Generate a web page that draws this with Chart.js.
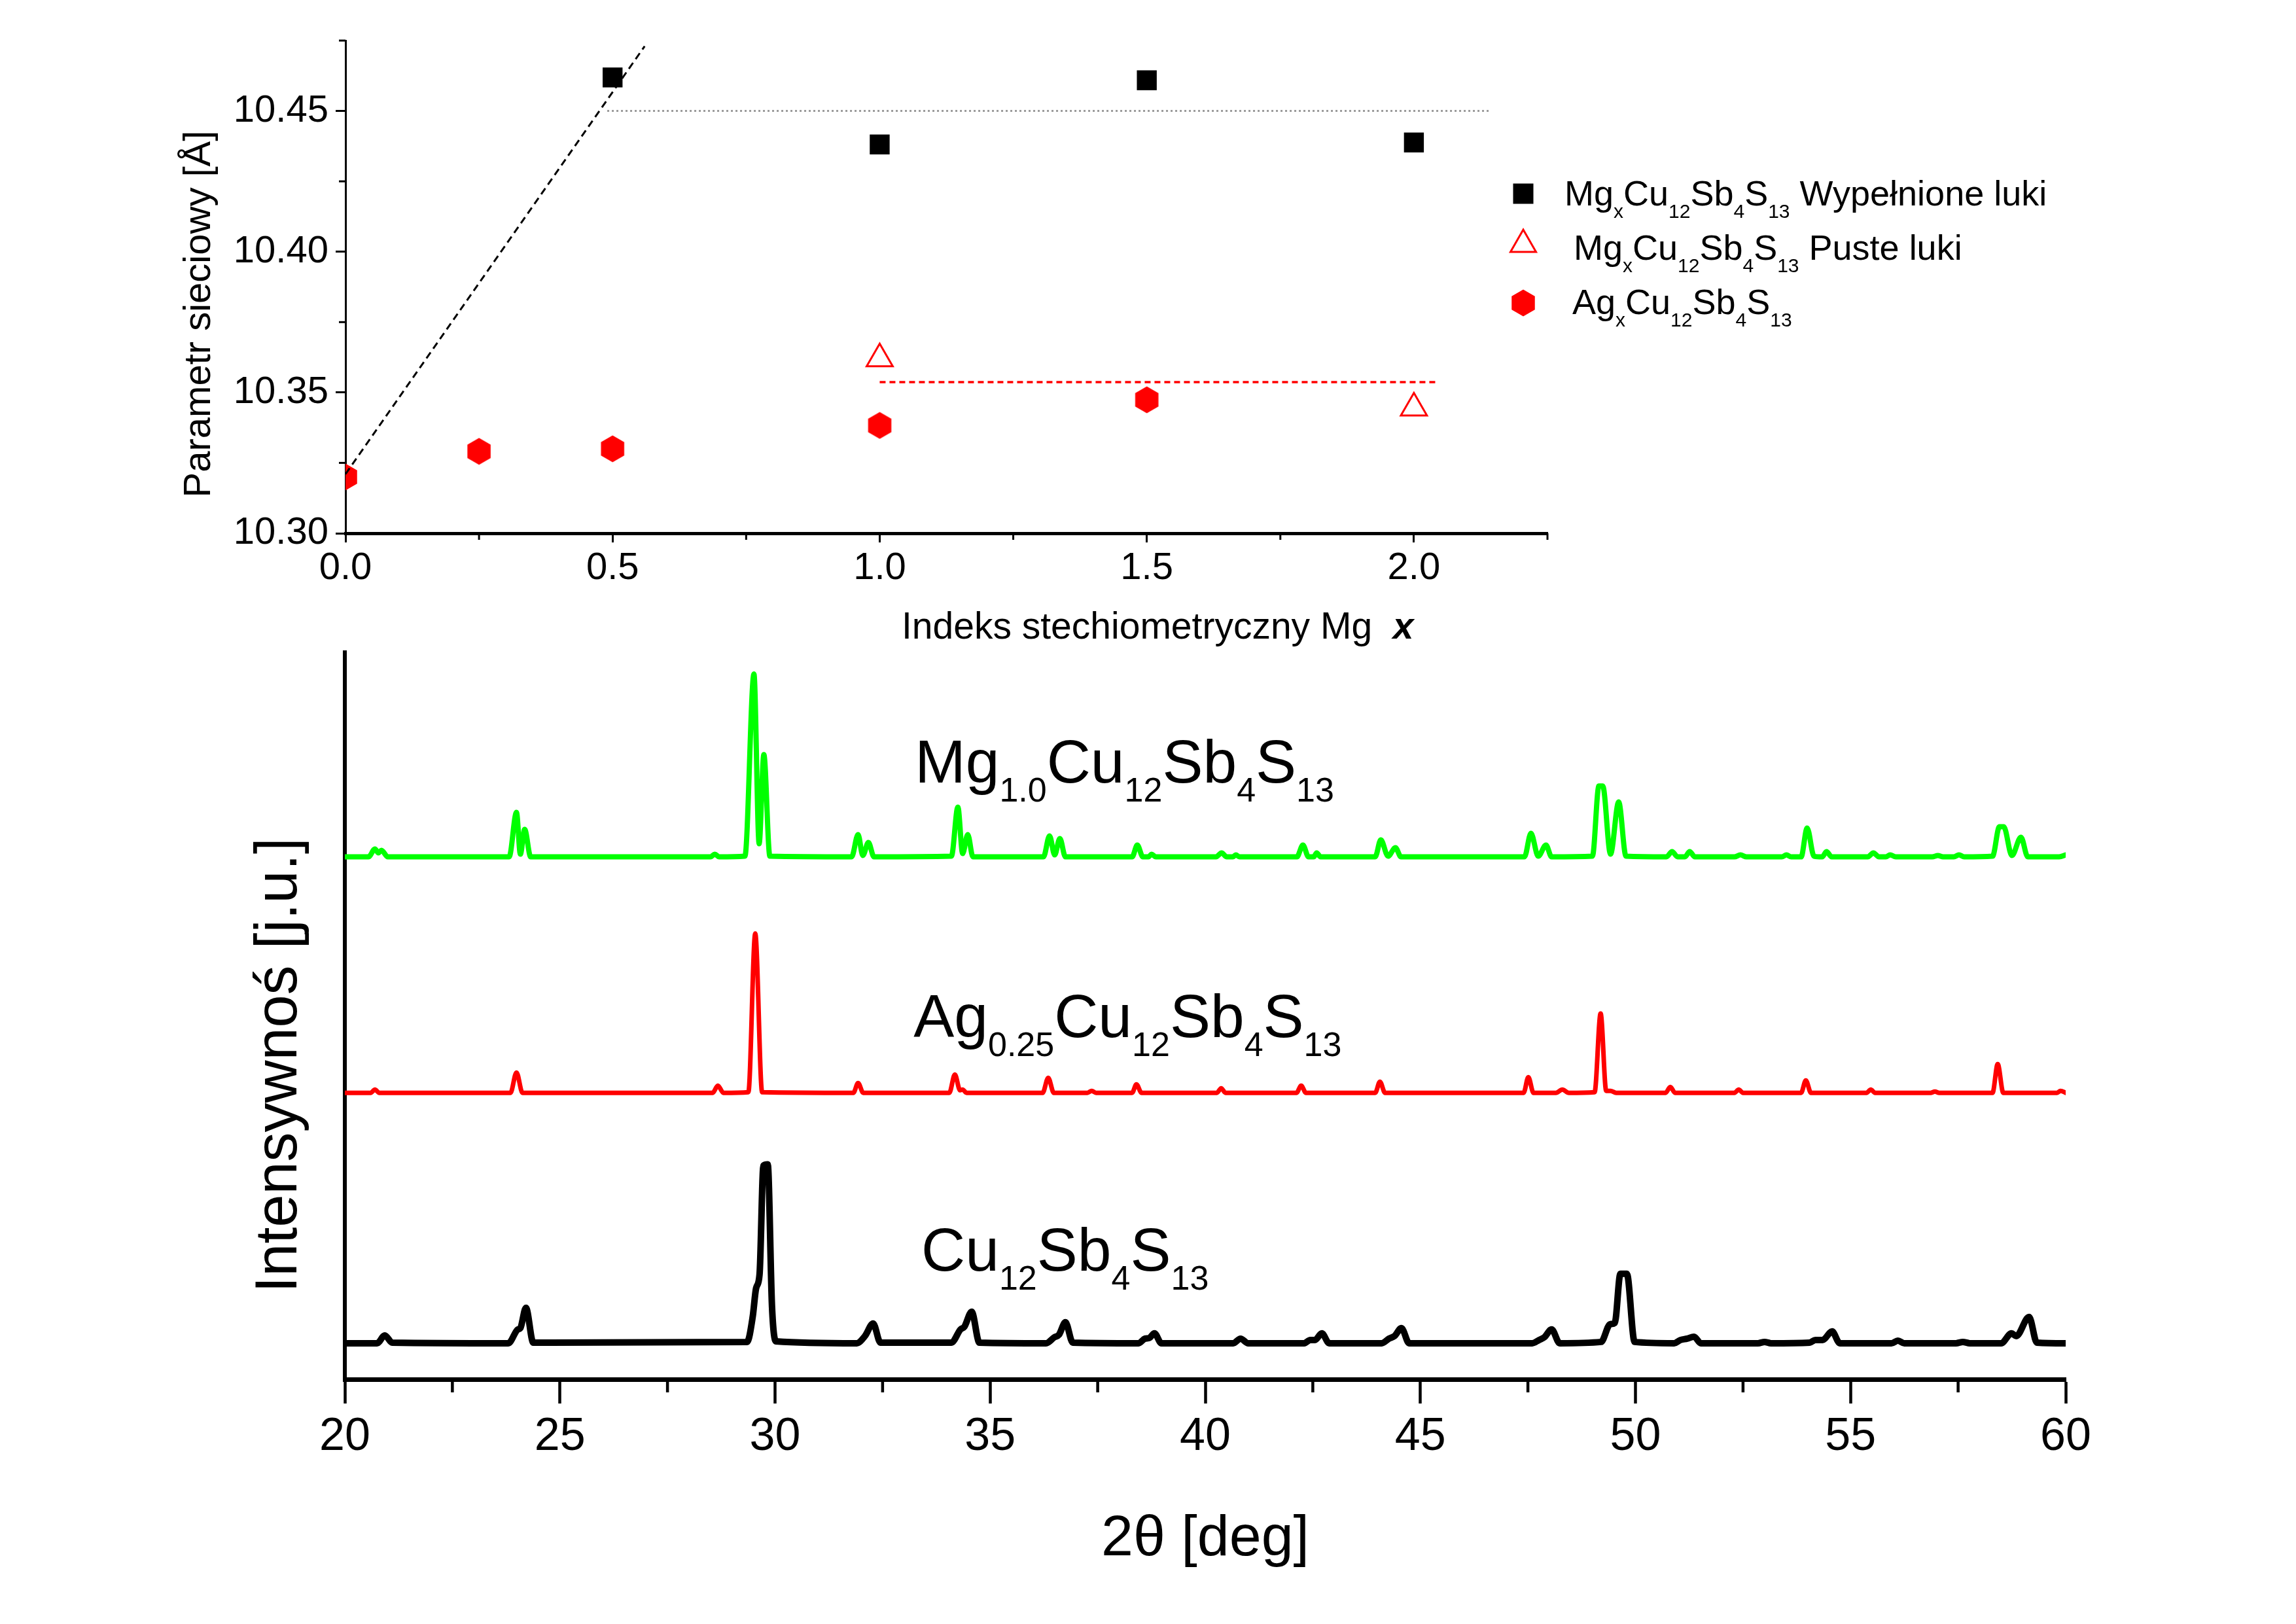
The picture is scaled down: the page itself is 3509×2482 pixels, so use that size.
<!DOCTYPE html>
<html>
<head>
<meta charset="utf-8">
<script src="https://cdn.jsdelivr.net/npm/chart.js@4.4.1/dist/chart.umd.min.js"></script>
<style>
  html, body { margin: 0; padding: 0; background: #fff; }
  #wrap { position: relative; width: 3509px; height: 2482px; }
  canvas { position: absolute; left: 0; top: 0; }
</style>
</head>
<body>
<div id="wrap">
  <canvas id="latticeChart" width="3509" height="2482"></canvas>
  <canvas id="xrdChart" width="3509" height="2482"></canvas>
</div>
<script>
// ---- top panel: lattice parameter vs stoichiometric index x ----
const xFilled = [0.5, 1.0, 1.5, 2.0];
const aFilled = [10.4619, 10.4381, 10.4609, 10.4388];
const xEmpty = [1.0, 2.0];
const aEmpty = [10.362, 10.3445];
const xAg = [0.0, 0.25, 0.5, 1.0, 1.5];
const aAg = [10.320, 10.3291, 10.330, 10.3383, 10.3474];

// guide lines
const trendX = [0.0, 0.56];
const trendY = [10.321, 10.473];
const filledLevelX = [0.49, 2.14];
const filledLevelY = [10.45, 10.45];
const emptyLevelX = [1.0, 2.042];
const emptyLevelY = [10.3537, 10.3537];

const latticeTicksX = [0.0, 0.5, 1.0, 1.5, 2.0];
const latticeMinorX = [0.25, 0.75, 1.25, 1.75, 2.25];
const latticeTicksY = [10.30, 10.35, 10.40, 10.45];
const latticeMinorY = [10.325, 10.375, 10.425, 10.475];

// ---- bottom panel: XRD patterns, [2theta, intensity a.u.] ----
const mgPattern = [
  [20.0,797],[20.55,797],[20.7,809],[20.78,803],[20.85,807],[21.0,797],
  [23.82,797],[23.99,865],[24.08,801],[24.18,839],[24.32,797],
  [28.5,797],[28.6,801],[28.7,797],
  [29.3,798],[29.51,1076],[29.63,817],[29.74,953],[29.88,798],
  [31.78,797],[31.93,831],[32.04,799],[32.17,819],[32.3,797],
  [34.1,798],[34.25,873],[34.36,802],[34.48,831],[34.6,797],
  [36.24,797],[36.38,829],[36.5,800],[36.62,825],[36.75,797],
  [38.3,797],[38.42,815],[38.55,797],[38.68,797],[38.75,801],[38.85,797],
  [40.25,797],[40.38,803],[40.5,797],[40.64,797],[40.71,800],[40.8,797],
  [42.13,797],[42.27,815],[42.4,797],[42.52,797],[42.59,803],[42.68,797],
  [43.95,797],[44.08,823],[44.25,798],[44.42,811],[44.55,797],
  [47.42,797],[47.57,833],[47.74,798],[47.92,815],[48.05,797],
  [49.0,798],[49.15,905],[49.24,905],[49.42,801],[49.61,881],[49.78,798],
  [50.72,797],[50.85,805],[50.98,797],[51.15,797],[51.26,805],[51.38,797],
  [52.3,797],[52.44,800],[52.58,797],
  [53.4,797],[53.51,800],[53.62,797],[53.85,797],[53.99,841],[54.15,798],
  [54.34,797],[54.44,805],[54.56,797],
  [55.4,797],[55.53,803],[55.66,797],[55.82,797],[55.92,800],[56.05,797],
  [56.9,797],[57.03,799],[57.15,797],[57.4,797],[57.52,800],[57.64,797],
  [58.3,798],[58.46,843],[58.56,843],[58.75,799],[58.96,827],[59.12,797],
  [59.85,797],[60.0,800]
];
const agPattern = [
  [20.0,437],[20.6,437],[20.7,442],[20.8,437],
  [23.85,437],[23.99,468],[24.13,437],
  [28.55,437],[28.67,448],[28.8,437],
  [29.38,438],[29.54,680],[29.7,438],
  [31.82,437],[31.93,452],[32.05,437],
  [34.05,437],[34.18,465],[34.3,441],[34.36,442],[34.45,437],
  [36.22,437],[36.35,460],[36.48,437],
  [37.26,437],[37.36,440],[37.46,437],
  [38.3,437],[38.4,450],[38.52,437],
  [40.27,437],[40.37,444],[40.47,437],
  [42.12,437],[42.23,448],[42.34,437],
  [43.95,437],[44.06,454],[44.18,437],
  [47.4,437],[47.51,461],[47.63,437],
  [48.15,437],[48.3,442],[48.45,437],
  [49.05,438],[49.19,558],[49.32,440],[49.42,440],[49.55,437],
  [50.7,437],[50.81,446],[50.92,437],
  [52.3,437],[52.4,442],[52.5,437],
  [53.85,437],[53.96,456],[54.08,437],
  [55.37,437],[55.47,442],[55.57,437],
  [56.86,437],[56.96,439],[57.06,437],
  [58.3,437],[58.42,481],[58.55,437],
  [59.8,437],[59.88,440],[60.0,437]
];
const cuPattern = [
  [20.0,55],[20.75,55],[20.93,67],[21.1,56],
  [23.8,55],[24.02,76],[24.08,78],[24.21,109],[24.38,56],
  [29.35,57],[29.48,95],[29.56,139],[29.64,160],[29.73,326],[29.83,328],[29.93,110],[30.02,58],
  [31.9,55],[32.09,66],[32.28,85],[32.45,56],
  [34.1,56],[34.31,76],[34.4,80],[34.57,103],[34.75,56],
  [36.3,55],[36.49,64],[36.6,68],[36.75,87],[36.92,56],
  [38.45,55],[38.6,62],[38.7,63],[38.82,70],[38.98,55],
  [40.65,55],[40.82,62],[41.0,55],
  [42.3,55],[42.44,60],[42.55,60],[42.71,70],[42.88,55],
  [44.1,55],[44.27,62],[44.4,66],[44.56,78],[44.74,55],
  [47.6,55],[47.76,60],[47.88,64],[48.05,76],[48.24,55],
  [49.2,57],[49.41,84],[49.52,86],[49.65,161],[49.8,161],[49.98,57],
  [50.9,55],[51.05,60],[51.2,62],[51.36,65],[51.52,55],
  [52.85,55],[53.0,57],[53.15,55],
  [54.05,56],[54.18,60],[54.35,60],[54.57,73],[54.75,55],
  [55.95,55],[56.1,59],[56.25,55],
  [57.45,55],[57.61,57],[57.77,55],
  [58.5,55],[58.74,70],[58.85,66],[59.15,95],[59.33,56],[60.0,55]
];
const xrdTicks = [20, 25, 30, 35, 40, 45, 50, 55, 60];
const xrdMinor = [22.5, 27.5, 32.5, 37.5, 42.5, 47.5, 52.5, 57.5];

// formula labels (text parts, 'sub' = subscript)
const legendFilled = [['Mg'],['x','sub'],['Cu'],['12','sub'],['Sb'],['4','sub'],['S'],['13','sub'],[' Wypełnione luki']];
const legendEmpty = [['Mg'],['x','sub'],['Cu'],['12','sub'],['Sb'],['4','sub'],['S'],['13','sub'],[' Puste luki']];
const legendAg = [['Ag'],['x','sub'],['Cu'],['12','sub'],['Sb'],['4','sub'],['S'],['13','sub']];
const labelMg = [['Mg'],['1.0','sub'],['Cu'],['12','sub'],['Sb'],['4','sub'],['S'],['13','sub']];
const labelAg = [['Ag'],['0.25','sub'],['Cu'],['12','sub'],['Sb'],['4','sub'],['S'],['13','sub']];
const labelCu = [['Cu'],['12','sub'],['Sb'],['4','sub'],['S'],['13','sub']];

const FONT = '"Liberation Sans", Arial, Helvetica, sans-serif';
Chart.defaults.font.family = FONT;
Chart.defaults.color = '#000';

const zip = (xs, ys) => xs.map((x, i) => ({x: x, y: ys[i]}));
const pairs = arr => arr.map(p => ({x: p[0], y: p[1]}));

// red hexagon marker
const hexagon = document.createElement('canvas');
hexagon.width = 38;
hexagon.height = 42;
(function () {
  const c = hexagon.getContext('2d');
  c.fillStyle = '#ff0000';
  c.beginPath();
  for (let k = 0; k < 6; k++) {
    const ang = -Math.PI / 2 + k * Math.PI / 3;
    const px = 19 + 20.5 * Math.cos(ang);
    const py = 21 + 20.5 * Math.sin(ang);
    if (k === 0) c.moveTo(px, py); else c.lineTo(px, py);
  }
  c.closePath();
  c.fill();
})();

function drawRich(ctx, parts, x, y, size, subSize, subDrop) {
  let cx = x;
  ctx.textAlign = 'left';
  ctx.textBaseline = 'alphabetic';
  parts.forEach(p => {
    const kind = p[1];
    const isSub = kind === 'sub';
    const style = kind === 'bi' ? 'italic bold ' : '';
    ctx.font = style + (isSub ? subSize : size) + 'px ' + FONT;
    ctx.fillText(p[0], cx, isSub ? y + subDrop : y);
    cx += ctx.measureText(p[0]).width;
  });
}

function rotatedTitle(ctx, text, x, y, size) {
  ctx.save();
  ctx.translate(x, y);
  ctx.rotate(-Math.PI / 2);
  ctx.textAlign = 'center';
  ctx.textBaseline = 'alphabetic';
  ctx.font = size + 'px ' + FONT;
  ctx.fillText(text, 0, 0);
  ctx.restore();
}

const minorTicks = {
  id: 'minorTicks',
  afterDraw(chart, args, opts) {
    const ctx = chart.ctx;
    const xs = chart.scales.x, ys = chart.scales.y;
    ctx.save();
    ctx.strokeStyle = '#000';
    ctx.lineWidth = opts.width;
    (opts.x || []).forEach(v => {
      const px = xs.getPixelForValue(v);
      ctx.beginPath();
      ctx.moveTo(px, xs.top);
      ctx.lineTo(px, xs.top + opts.xLength);
      ctx.stroke();
    });
    (opts.y || []).forEach(v => {
      const py = ys.getPixelForValue(v);
      ctx.beginPath();
      ctx.moveTo(ys.right, py);
      ctx.lineTo(ys.right - opts.yLength, py);
      ctx.stroke();
    });
    ctx.restore();
  }
};

const latticeText = {
  id: 'latticeText',
  afterDraw(chart) {
    const ctx = chart.ctx;
    ctx.save();
    ctx.fillStyle = '#000';
    rotatedTitle(ctx, 'Parametr sieciowy [Å]', 321, 480, 58);
    drawRich(ctx, [['Indeks stechiometryczny Mg  '], ['x', 'bi']], 1378, 976, 57, 57, 0);

    // legend
    ctx.fillStyle = '#000';
    ctx.fillRect(2328 - 15.5, 296 - 15.5, 31, 31);
    ctx.beginPath();
    ctx.moveTo(2328, 373 - 22);
    ctx.lineTo(2328 + 19.5, 373 + 12);
    ctx.lineTo(2328 - 19.5, 373 + 12);
    ctx.closePath();
    ctx.strokeStyle = '#ff0000';
    ctx.lineWidth = 3;
    ctx.stroke();
    ctx.drawImage(hexagon, 2328 - hexagon.width / 2, 463 - hexagon.height / 2);

    ctx.fillStyle = '#000';
    drawRich(ctx, legendFilled, 2391, 314, 54, 30, 19);
    drawRich(ctx, legendEmpty, 2405, 397, 54, 30, 19);
    drawRich(ctx, legendAg, 2403, 480, 54, 30, 19);
    ctx.restore();
  }
};

new Chart(document.getElementById('latticeChart'), {
  type: 'scatter',
  data: {
    datasets: [
      { type: 'line', data: zip(trendX, trendY), borderColor: '#000', borderWidth: 3,
        borderDash: [11, 7], pointRadius: 0, fill: false },
      { type: 'line', data: zip(filledLevelX, filledLevelY), borderColor: '#9a9a9a', borderWidth: 3,
        borderDash: [3, 4], pointRadius: 0, fill: false },
      { type: 'line', data: zip(emptyLevelX, emptyLevelY), borderColor: '#ff0000', borderWidth: 3.5,
        borderDash: [9, 6], pointRadius: 0, fill: false },
      { data: zip(xFilled, aFilled), pointStyle: 'rect', pointRadius: 21.5,
        backgroundColor: '#000', borderColor: '#000', borderWidth: 0 },
      { data: zip(xEmpty, aEmpty), pointStyle: 'triangle', pointRadius: 23,
        backgroundColor: 'rgba(255,255,255,0)', borderColor: '#ff0000', borderWidth: 3 },
      { data: zip(xAg, aAg), pointStyle: hexagon, pointRadius: 20,
        backgroundColor: '#ff0000', borderWidth: 0 }
    ]
  },
  options: {
    responsive: false,
    animation: false,
    devicePixelRatio: 1,
    events: [],
    layout: { padding: { left: 0, top: 62, right: 1144, bottom: 1507 }, autoPadding: false },
    plugins: {
      legend: { display: false },
      tooltip: { enabled: false },
      minorTicks: { x: latticeMinorX, y: latticeMinorY, xLength: 10, yLength: 10, width: 3 }
    },
    scales: {
      x: {
        type: 'linear', min: 0, max: 2.25,
        afterFit: s => { s.height = 160; },
        afterBuildTicks: s => { s.ticks = latticeTicksX.map(v => ({ value: v })); },
        ticks: { font: { size: 58 }, color: '#000', padding: 5, maxRotation: 0, autoSkip: false,
                 callback: v => Number(v).toFixed(1) },
        grid: { display: true, drawOnChartArea: false, drawTicks: true, tickLength: 14,
                tickWidth: 3, tickColor: '#000' },
        border: { display: true, color: '#000', width: 5 }
      },
      y: {
        type: 'linear', min: 10.30, max: 10.475,
        afterFit: s => { s.width = 528; },
        afterBuildTicks: s => { s.ticks = latticeTicksY.map(v => ({ value: v })); },
        ticks: { font: { size: 58 }, color: '#000', padding: 11, autoSkip: false,
                 callback: v => Number(v).toFixed(2) },
        grid: { display: true, drawOnChartArea: false, drawTicks: true, tickLength: 15,
                tickWidth: 3, tickColor: '#000' },
        border: { display: true, color: '#000', width: 3 }
      }
    }
  },
  plugins: [minorTicks, latticeText]
});

const xrdText = {
  id: 'xrdText',
  afterDraw(chart) {
    const ctx = chart.ctx;
    const xs = chart.scales.x, ys = chart.scales.y;
    ctx.save();
    ctx.fillStyle = '#000';
    rotatedTitle(ctx, 'Intensywnoś [j.u.]', 453, 1628, 90);
    ctx.textAlign = 'center';
    ctx.font = '88px ' + FONT;
    ctx.fillText('2θ [deg]', 1842, 2377);
    drawRich(ctx, labelMg, xs.getPixelForValue(33.25), ys.getPixelForValue(910), 93, 52, 29);
    drawRich(ctx, labelAg, xs.getPixelForValue(33.22), ys.getPixelForValue(522), 93, 52, 29);
    drawRich(ctx, labelCu, xs.getPixelForValue(33.40), ys.getPixelForValue(166), 93, 52, 29);
    ctx.restore();
  }
};

const lineStyle = { pointRadius: 0, fill: false, cubicInterpolationMode: 'monotone',
                    borderJoinStyle: 'round', borderCapStyle: 'round' };

new Chart(document.getElementById('xrdChart'), {
  type: 'line',
  data: {
    datasets: [
      Object.assign({ data: pairs(mgPattern), borderColor: '#00ff00', borderWidth: 8 }, lineStyle),
      Object.assign({ data: pairs(agPattern), borderColor: '#ff0000', borderWidth: 7 }, lineStyle),
      Object.assign({ data: pairs(cuPattern), borderColor: '#000000', borderWidth: 10 }, lineStyle)
    ]
  },
  options: {
    responsive: false,
    animation: false,
    devicePixelRatio: 1,
    events: [],
    layout: { padding: { left: 0, top: 997, right: 352, bottom: 194 }, autoPadding: false },
    plugins: {
      legend: { display: false },
      tooltip: { enabled: false },
      minorTicks: { x: xrdMinor, y: [], xLength: 20, yLength: 0, width: 4.5 }
    },
    scales: {
      x: {
        type: 'linear', min: 20, max: 60,
        afterFit: s => { s.height = 180; },
        afterBuildTicks: s => { s.ticks = xrdTicks.map(v => ({ value: v })); },
        ticks: { font: { size: 70 }, color: '#000', padding: 10, maxRotation: 0, autoSkip: false },
        grid: { display: true, drawOnChartArea: false, drawTicks: true, tickLength: 37,
                tickWidth: 4.5, tickColor: '#000' },
        border: { display: true, color: '#000', width: 7 }
      },
      y: {
        type: 'linear', min: 0, max: 1109,
        afterFit: s => { s.width = 527; },
        ticks: { display: false },
        grid: { display: true, drawOnChartArea: false, drawTicks: false },
        border: { display: true, color: '#000', width: 6 }
      }
    }
  },
  plugins: [minorTicks, xrdText]
});
</script>
</body>
</html>
